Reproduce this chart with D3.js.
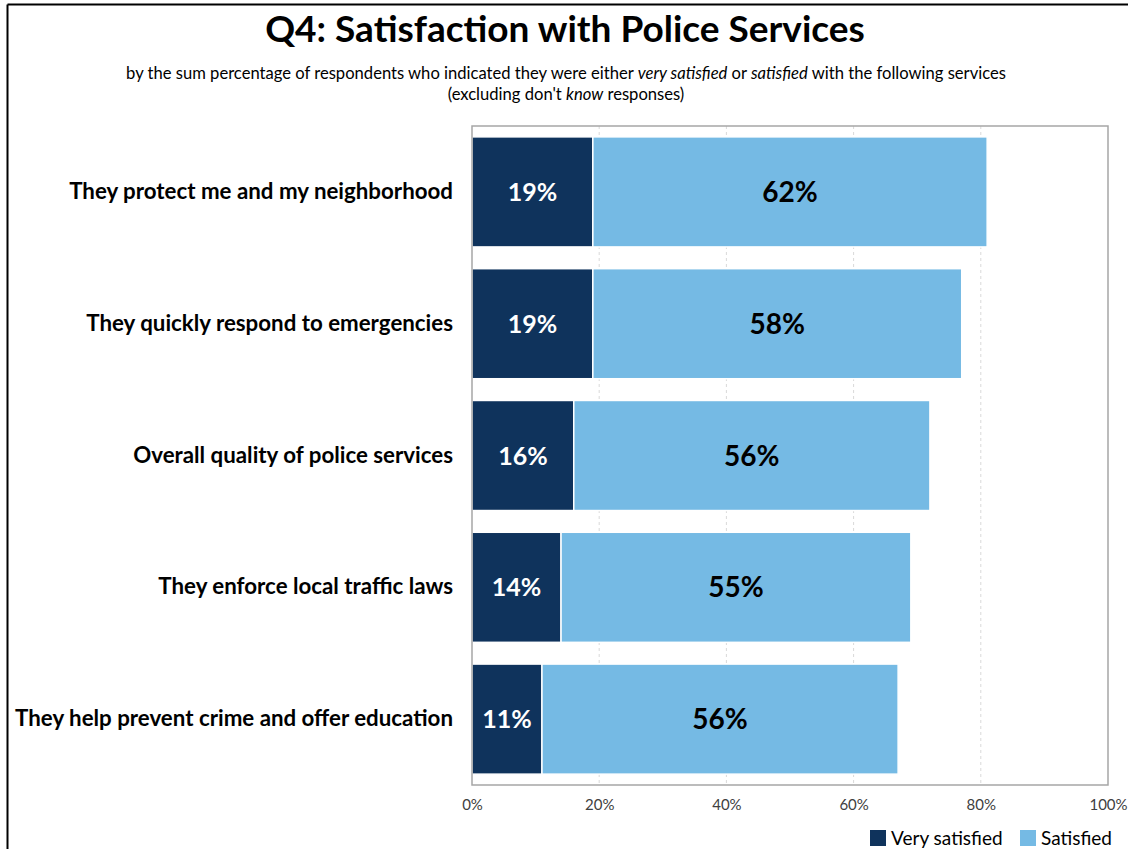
<!DOCTYPE html>
<html>
<head>
<meta charset="utf-8">
<script src="https://cdn.jsdelivr.net/npm/d3@7"></script>
<style>
  html, body { margin: 0; padding: 0; background: #fff; }
  svg { display: block; font-family: Lato, "Open Sans", sans-serif; }
</style>
</head>
<body>
<svg id="chart" width="1128" height="849"></svg>
<script>
// Survey items, top to bottom
const categories = [
  "They protect me and my neighborhood",
  "They quickly respond to emergencies",
  "Overall quality of police services",
  "They enforce local traffic laws",
  "They help prevent crime and offer education"
];
// Percent of respondents per response level
const verySatisfied = [19, 19, 16, 14, 11];
const satisfied     = [62, 58, 56, 55, 56];
const seriesNames   = ["Very satisfied", "Satisfied"];
const xTicks        = [0, 20, 40, 60, 80, 100];

const colors = { dark: "#0F335C", light: "#75BAE4" };

const svg = d3.select("#chart");

// Outer frame lines (top and left)
svg.append("line").attr("x1", 7.5).attr("x2", 1128).attr("y1", 4.5).attr("y2", 4.5)
  .attr("stroke", "#000").attr("stroke-width", 2);
svg.append("line").attr("x1", 7.5).attr("x2", 7.5).attr("y1", 4.5).attr("y2", 849)
  .attr("stroke", "#000").attr("stroke-width", 2);

// Title and subtitle
svg.append("text")
  .attr("x", 565).attr("y", 42)
  .attr("text-anchor", "middle")
  .attr("font-size", 37).attr("font-weight", "bold").attr("fill", "#000")
  .text("Q4: Satisfaction with Police Services");

const sub1 = svg.append("text")
  .attr("x", 566).attr("y", 79)
  .attr("text-anchor", "middle").attr("font-size", 16.6).attr("fill", "#000");
sub1.append("tspan").text("by the sum percentage of respondents who indicated they were either ");
sub1.append("tspan").attr("font-style", "italic").text("very satisfied");
sub1.append("tspan").text(" or ");
sub1.append("tspan").attr("font-style", "italic").text("satisfied");
sub1.append("tspan").text(" with the following services");

const sub2 = svg.append("text")
  .attr("x", 566).attr("y", 100)
  .attr("text-anchor", "middle").attr("font-size", 16.6).attr("fill", "#000");
sub2.append("tspan").text("(excluding don't ");
sub2.append("tspan").attr("font-style", "italic").text("know");
sub2.append("tspan").text(" responses)");

// Scales
const plot = { left: 472, right: 1108, top: 126, bottom: 785 };
const x = d3.scaleLinear().domain([0, 100]).range([plot.left, plot.right]);
const y = d3.scaleBand().domain(categories)
  .range([plot.top, plot.bottom])
  .paddingInner(0.165).paddingOuter(0.0825);

// Dashed vertical gridlines
svg.append("g").selectAll("line")
  .data(xTicks.filter(t => t > 0 && t < 100))
  .join("line")
  .attr("x1", d => x(d)).attr("x2", d => x(d))
  .attr("y1", plot.top).attr("y2", plot.bottom)
  .attr("stroke", "#D9D9D9").attr("stroke-width", 1)
  .attr("stroke-dasharray", "3,3");

// Stacked bars
const stackData = categories.map((c, i) => ({ cat: c, "Very satisfied": verySatisfied[i], "Satisfied": satisfied[i] }));
const stacked = d3.stack().keys(seriesNames)(stackData);
const fills = [colors.dark, colors.light];
const labelFill = ["#fff", "#000"];
const labelSize = [25, 28];

stacked.forEach((layer, li) => {
  const g = svg.append("g");
  g.selectAll("rect").data(layer).join("rect")
    .attr("x", d => x(d[0]))
    .attr("y", d => y(d.data.cat))
    .attr("width", d => x(d[1]) - x(d[0]))
    .attr("height", y.bandwidth())
    .attr("fill", fills[li])
    .attr("stroke", "#fff").attr("stroke-width", 1.5);
  g.selectAll("text").data(layer).join("text")
    .attr("x", d => (x(d[0]) + x(d[1])) / 2)
    .attr("y", d => y(d.data.cat) + y.bandwidth() / 2)
    .attr("dy", "0.36em")
    .attr("text-anchor", "middle")
    .attr("font-size", labelSize[li]).attr("font-weight", "bold")
    .attr("fill", labelFill[li])
    .text(d => (d[1] - d[0]) + "%");
});

// Plot area frame
svg.append("rect")
  .attr("x", plot.left).attr("y", plot.top)
  .attr("width", plot.right - plot.left).attr("height", plot.bottom - plot.top)
  .attr("fill", "none").attr("stroke", "#A6A6A6").attr("stroke-width", 1.5);

// Axes
const xAxis = svg.append("g")
  .attr("transform", `translate(0,${plot.bottom})`)
  .call(d3.axisBottom(x).tickValues(xTicks).tickFormat(d => d + "%").tickSize(0).tickPadding(14));
xAxis.select(".domain").remove();
xAxis.selectAll("text").attr("font-size", 15).attr("font-family", "Lato, sans-serif").attr("fill", "#404040");

const yAxis = svg.append("g")
  .attr("transform", `translate(${plot.left},0)`)
  .call(d3.axisLeft(y).tickSize(0).tickPadding(19));
yAxis.select(".domain").remove();
yAxis.selectAll("text").attr("font-size", 22.3).attr("font-weight", "bold")
  .attr("font-family", "Lato, sans-serif").attr("fill", "#000");

// Legend
const legend = svg.append("g").attr("transform", "translate(870,838)");
const legendX = [0, 150];
seriesNames.forEach((name, i) => {
  const item = legend.append("g").attr("transform", `translate(${legendX[i]},0)`);
  item.append("rect").attr("x", 0).attr("y", -8).attr("width", 16).attr("height", 16).attr("fill", fills[i]);
  item.append("text").attr("x", 21).attr("y", 0).attr("dy", "0.35em")
    .attr("font-size", 19).attr("fill", "#000").text(name);
});
</script>
</body>
</html>
